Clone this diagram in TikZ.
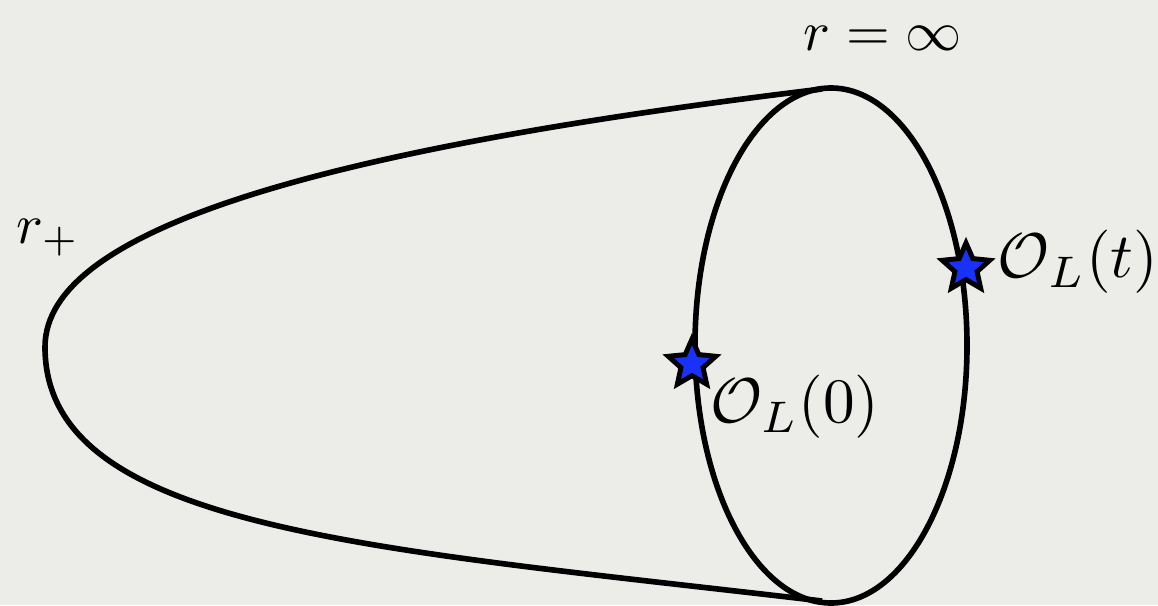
\documentclass[tikz,border=0pt]{standalone}
\usetikzlibrary{shapes.geometric}
\definecolor{cpaper}{RGB}{236,236,232}
\definecolor{cstar}{RGB}{25,50,250}
\tikzset{
  every picture/.style={line width=3.2pt},
  rim/.style={draw=black, line width=3.2pt},
  insertion/.style={star, star points=5, star point ratio=2.15, minimum size=1.0cm, inner sep=0pt, draw=black, line width=2.8pt, fill=cstar},
  biglabel/.style={scale=3.2, inner sep=0pt},
  oplabel/.style={scale=3.6, inner sep=0pt},
}
\begin{document}
\begin{tikzpicture}[x=0.02cm, y=-0.02cm]
  \path[use as bounding box, fill=cpaper] (0,0) rectangle (1158,605);
  % horizon tip and the two sheets running out to the boundary
  \coordinate (tip) at (45,347);
  \coordinate (top) at (822,89);
  \coordinate (bot) at (822,601);
  \draw[rim] (top) .. controls (342,147) and (45,225) .. (tip)
                   .. controls (45,530) and (372,548) .. (bot);
  % boundary circle at infinity
  \draw[rim] (831,345.5) ellipse [x radius=136, y radius=257.5];
  % operator insertions
  \node[insertion] (s0) at (692,364) {};
  \node[insertion] (st) at (966,268) {};
  \node[oplabel] (l0) at (795,407) {$\mathcal{O}_L(0)$};
  \node[oplabel] (lt) at (1078,262) {$\mathcal{O}_L(t)$};
  \node[biglabel] (inf) at (883,38) {$r=\infty$};
  \node[biglabel] (hor) at (48,238) {$r_+$};
\end{tikzpicture}
\end{document}
